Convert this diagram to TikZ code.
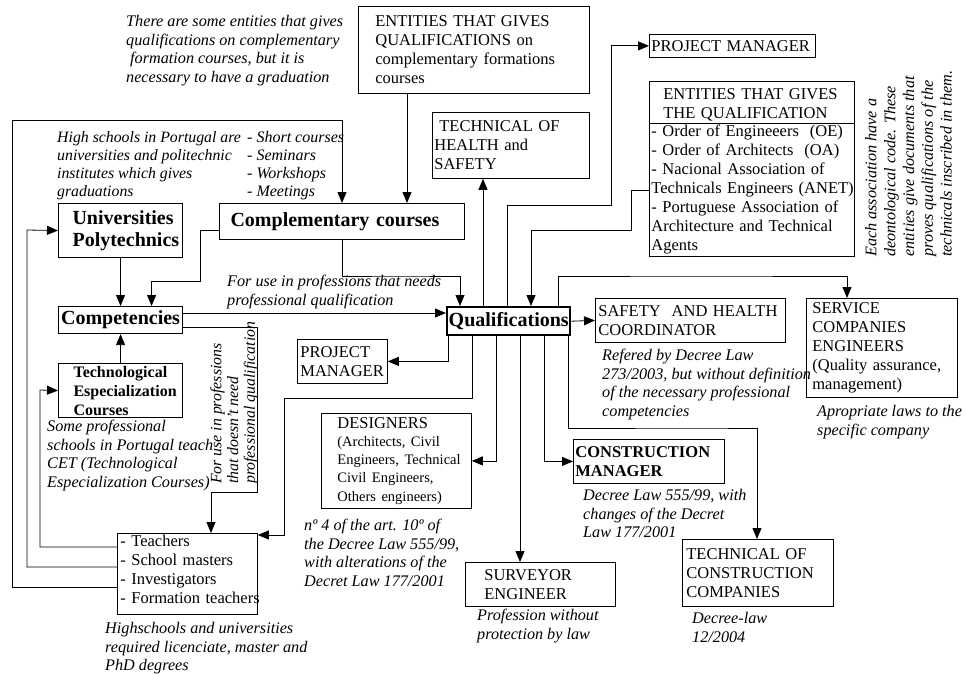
\documentclass[tikz,border=0pt]{standalone}
\usepackage{fontspec}
\setmainfont{Liberation Serif}
\usetikzlibrary{arrows.meta}

\tikzset{
  box/.style={draw, line width=0.8pt, anchor=north west, inner ysep=0pt, align=left, font=\fontsize{16.5}{19}\selectfont},
  bbox/.style={box, line width=1.1pt, font=\fontsize{20}{22}\selectfont\bfseries},
  note/.style={anchor=north west, inner sep=0pt, align=left, font=\fontsize{16.2}{18.6}\selectfont\itshape},
  arr/.style={line width=0.8pt, -{Triangle[length=11pt,width=9pt]}},
}

\begin{document}
\begin{tikzpicture}[x=1pt, y=-1pt]
    \useasboundingbox (0,0) rectangle (966,674);

    % schools and courses
    \node[bbox, text width=96pt, inner xsep=14pt, minimum height=54pt] (univ) at (58,203) {Universities\\\mbox{Polytechnics}};
    \node[bbox, text width=223pt, inner xsep=11pt, minimum height=36pt] (comp) at (219,203) {Complementary courses};
    \node[bbox, text width=124pt, inner xsep=0pt, minimum height=27pt, align=center] (compet) at (58,306) {Competencies};
    \node[bbox, text width=94pt, inner xsep=15pt, minimum height=54pt, font=\fontsize{16}{19}\selectfont\bfseries] (tech) at (58,363) {Technological\\\mbox{Especialization}\\Courses};
    \node[box, text width=134pt, inner xsep=3pt, minimum height=81pt, text depth=67pt] (teach) at (117,533) {- Teachers\\- School masters\\- Investigators\\\mbox{- Formation teachers}};
    \node[box, text width=197pt, inner xsep=17pt, minimum height=87pt] (ent1) at (358,6) {ENTITIES THAT GIVES\\QUALIFICATIONS on\\complementary formations\\courses};

    % qualifications
    \node[bbox, line width=2.4pt, text width=123pt, inner xsep=0pt, minimum height=28pt, align=center] (qual) at (446,306) {Qualifications};
    \node[box, text width=177pt, inner xsep=14pt, minimum height=42pt, text depth=16pt] (ent2t) at (649,81) {ENTITIES THAT GIVES\\THE QUALIFICATION};
    \node[box, text width=201pt, inner xsep=2pt, minimum height=133pt] (ent2l) at (649,123) {- Order of Engineeers\ \ (OE)\\- Order of Architects\ \ (OA)\\- Nacional Association of\\\mbox{Technicals Engineers (ANET)}\\- Portuguese Association of\\Architecture and Technical\\Agents};

    % professions
    \node[box, text width=153pt, inner xsep=2pt, minimum height=66pt] (health) at (432,112) {\hspace*{5pt}TECHNICAL OF\\HEALTH and\\SAFETY};
    \node[box, text width=162pt, inner xsep=2pt, minimum height=23pt] (pm1) at (649,34) {PROJECT MANAGER};
    \node[box, text width=184pt, inner xsep=3pt, minimum height=44pt] (safe) at (595,298) {SAFETY\ \ AND HEALTH\\COORDINATOR};
    \node[box, text width=139pt, inner xsep=6pt, minimum height=99pt] (serv) at (806,298) {SERVICE\\COMPANIES\\ENGINEERS\\(Quality assurance,\\management)};
    \node[box, text width=84pt, inner xsep=3pt, minimum height=44pt] (pm2) at (297,339) {PROJECT\\MANAGER};
    \node[box, text width=118pt, inner xsep=16pt, minimum height=95pt] (des) at (321,413) {DESIGNERS\\\fontsize{14.5}{18.2}\selectfont(Architects, Civil\\\mbox{Engineers, Technical}\\Civil Engineers,\\\mbox{Others engineers)}};
    \node[box, text width=147pt, inner xsep=2pt, minimum height=44pt, font=\fontsize{16.5}{19}\selectfont\bfseries] (cm) at (573,439) {CONSTRUCTION\\MANAGER};
    \node[box, text width=112pt, inner xsep=19pt, minimum height=44pt] (surv) at (465,562) {SURVEYOR\\ENGINEER};
    \node[box, text width=143pt, inner xsep=4pt, minimum height=67pt] (tcc) at (682,539) {TECHNICAL OF\\CONSTRUCTION\\COMPANIES};

    % notes
    \node[note] (nEntities) at (126,15) {There are some entities that gives\\qualifications on complementary\\\hspace*{4pt}formation courses, but it is\\necessary to have a graduation};
    \node[note, font=\fontsize{15.8}{18}\selectfont\itshape] (nHigh) at (57,131) {High schools in Portugal are\\universities and politechnic\\institutes which gives\\graduations};
    \node[note, font=\fontsize{16}{18}\selectfont\itshape] (nShort) at (247,131) {- Short courses\\- Seminars\\- Workshops\\- Meetings};
    \node[note] (nNeeds) at (227,275) {For use in professions that needs\\professional qualification};
    \node[note] (nCET) at (47,420) {Some professional\\schools in Portugal teach\\CET (Technological\\Especialization Courses)};
    \node[note] (nDegrees) at (105,622) {Highschools and universities\\required licenciate, master and\\PhD degrees};
    \node[note, rotate=90, font=\fontsize{15.8}{16.8}\selectfont\itshape] (nNoNeed) at (210,484) {For use in professions\\that doesn't need\\professional qualification};
    \node[note] (nCoord) at (602,349) {Refered by Decree Law\\273/2003, but without definition\\of the necessary professional\\competencies};
    \node[note] (nService) at (817,405) {Apropriate laws to the\\specific company};
    \node[note] (nDesigners) at (304,519) {nº 4 of the art. 10º of\\the Decree Law 555/99,\\with alterations of the\\Decret Law 177/2001};
    \node[note] (nSurveyor) at (477,609) {Profession without\\protection by law};
    \node[note] (nManager) at (583,489) {Decree Law 555/99, with\\changes of the Decret\\Law 177/2001};
    \node[note] (nCompanies) at (692,612) {Decree-law\\12/2004};
    \node[note, rotate=90, font=\fontsize{16.2}{18.8}\selectfont\itshape] (nAssoc) at (865,257) {Each association have a\\deontological code. These\\entities give documents that\\proves qualifications of the\\technicals inscribed in them.};

    % left side
    \draw[arr] ([xshift=49pt]ent1.south west) -- ([xshift=49pt]ent1.south west |- comp.north);
    \draw[arr] ([yshift=-54pt]teach.north west) -| (12,120) -| ([xshift=123pt]comp.north west);
    \draw[arr] ([yshift=-34pt]teach.north west) -| (27,230) -- (univ.west);
    \draw[arr] ([yshift=-14pt]teach.north west) -| (40,390) -- (tech.west);
    \draw[arr] (univ.south) -- (compet.north);
    \draw[arr] (tech.north) -- (compet.south);
    \draw[arr] ([yshift=-27pt]comp.north west) -| (200,281) -| ([xshift=31pt]compet.north);
    \draw[arr] ([yshift=-7pt]compet.north east) -- ([yshift=-7pt]qual.north west);
    \draw[arr] ([yshift=7pt]compet.south east) -| (257,492) -| ([xshift=94pt]teach.north west);
    \draw[arr] ([xshift=123pt]comp.south west) |- (400,276) -| ([xshift=14pt]qual.north west);

    % above qualifications
    \draw[arr] ([xshift=37pt]qual.north west) -- ([xshift=37pt]qual.north west |- health.south);
    \draw[arr] ([xshift=61pt]qual.north west) |- (611,205) |- (pm1.west);
    \draw[arr] ([yshift=-67pt]ent2l.north west) -| (631,230) -| ([xshift=85pt]qual.north west);
    \draw[arr] ([xshift=112pt]qual.north west) |- (700,276) -| ([xshift=41pt]serv.north west);
    \draw[arr] (qual.east) -- (safe.west);

    % below qualifications
    \draw[arr] ([xshift=2pt]qual.south west) |- (pm2.east);
    \draw[arr] ([xshift=26pt]qual.south west) |- (284,398) |- ([yshift=-2pt]teach.north east);
    \draw[arr] ([xshift=50pt]qual.south west) |- (des.east);
    \draw[arr] ([xshift=74pt]qual.south west) -- ([xshift=74pt]qual.south west |- surv.north);
    \draw[arr] ([xshift=98pt]qual.south west) |- (cm.west);
    \draw[arr] ([xshift=122pt]qual.south west) |- (700,428) -| ([xshift=75pt]tcc.north west);

\end{tikzpicture}
\end{document}
